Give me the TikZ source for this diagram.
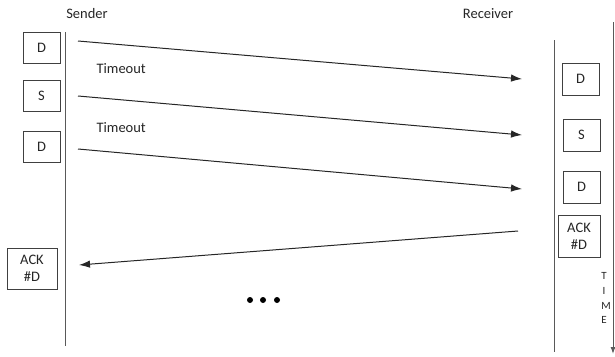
\documentclass[tikz,border=0pt]{standalone}
\usepackage{fontspec}
\setmainfont{Carlito}
\usetikzlibrary{arrows.meta}
\begin{document}
\begin{tikzpicture}[x=1pt,y=-1pt,
  every node/.style={font=\fontsize{14.5}{17}\selectfont, text=black!85},
  framebox/.style={draw=black!75, line width=0.9pt, inner sep=0pt},
  lifeline/.style={draw=black!65, line width=1pt},
  msg/.style={draw=black!85, line width=1pt, -{Latex[length=11pt,width=7.5pt]}},
  lbl/.style={anchor=west}]
\useasboundingbox (0,0) rectangle (615,356);
% lifelines
\coordinate (sTop) at (65,32);  \coordinate (sBot) at (65,346);
\coordinate (rTop) at (554,40); \coordinate (rBot) at (554,352);
\coordinate (tTop) at (613,22); \coordinate (tBot) at (613,354);
\draw[lifeline] (sTop) -- (sBot);
\draw[lifeline] (rTop) -- (rBot);
\draw[lifeline, -{Latex[length=7pt,width=5pt]}] (tTop) -- (tBot);
% headings
\node (sender) at (87,14) {Sender};
\node (receiver) at (488,14) {Receiver};
% sender side frames
\node[framebox, minimum width=37pt, minimum height=31pt] (sd1) at (41.5,47.5) {D};
\node[framebox, minimum width=37pt, minimum height=31pt] (ss) at (41.5,95.5) {S};
\node[framebox, minimum width=37pt, minimum height=31pt] (sd2) at (41.5,146.5) {D};
\node[framebox, minimum width=50pt, minimum height=41pt, align=center, font=\fontsize{14.5}{17}\selectfont] (sack) at (32,268.5) {ACK\\\#D};
% receiver side frames
\node[framebox, minimum width=37pt, minimum height=32pt] (rd1) at (580.5,79) {D};
\node[framebox, minimum width=37pt, minimum height=32pt] (rs) at (581.5,135) {S};
\node[framebox, minimum width=37pt, minimum height=32pt] (rd2) at (581.5,187) {D};
\node[framebox, minimum width=42pt, minimum height=42pt, align=center, font=\fontsize{14.5}{17}\selectfont] (rack) at (579,236) {ACK\\\#D};
% timeout labels
\node[lbl] (to1) at (93,69) {Timeout};
\node[lbl] (to2) at (93,128) {Timeout};
% message endpoints
\coordinate (m1a) at (78,41);  \coordinate (m1b) at (522,79);
\coordinate (m2a) at (78,96);  \coordinate (m2b) at (522,135);
\coordinate (m3a) at (78,149); \coordinate (m3b) at (522,189);
\coordinate (m4a) at (518,231); \coordinate (m4b) at (79,265);
\draw[msg] (m1a) -- (m1b);
\draw[msg] (m2a) -- (m2b);
\draw[msg] (m3a) -- (m3b);
\draw[msg] (m4a) -- (m4b);
% time axis label
\node[font=\fontsize{11}{13}\selectfont] (tT) at (604,276) {T};
\node[font=\fontsize{11}{13}\selectfont] (tI) at (604,291) {I};
\node[font=\fontsize{11}{13}\selectfont] (tM) at (606,306) {M};
\node[font=\fontsize{11}{13}\selectfont] (tE) at (604,320) {E};
% continuation dots
\fill (250,300) circle (3pt) (263,300) circle (3pt) (277,300) circle (3pt);
\end{tikzpicture}
\end{document}
